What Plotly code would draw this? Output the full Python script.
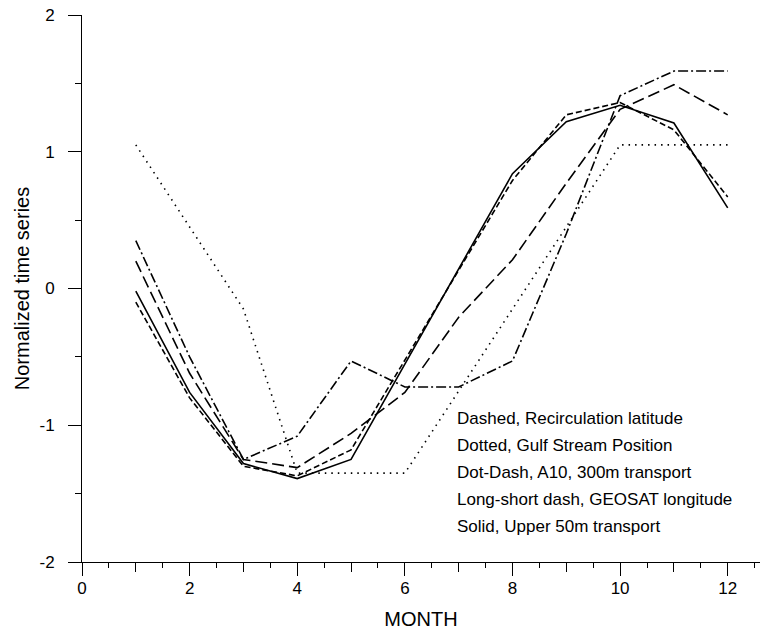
import plotly.graph_objects as go

months = [1, 2, 3, 4, 5, 6, 7, 8, 9, 10, 11, 12]

recirc_latitude = [-0.10, -0.80, -1.30, -1.37, -1.18, -0.52, 0.14, 0.79, 1.27, 1.36, 1.16, 0.67]
gulf_stream_pos = [1.05, 0.45, -0.15, -1.35, -1.35, -1.35, -0.75, -0.15, 0.45, 1.05, 1.05, 1.05]
a10_300m = [0.35, -0.50, -1.25, -1.08, -0.53, -0.72, -0.72, -0.53, 0.40, 1.41, 1.59, 1.59]
geosat_lon = [0.20, -0.62, -1.25, -1.31, -1.06, -0.76, -0.21, 0.21, 0.77, 1.31, 1.49, 1.27]
upper50m = [-0.02, -0.76, -1.28, -1.39, -1.25, -0.55, 0.15, 0.84, 1.22, 1.34, 1.21, 0.59]

legend_lines = [
    "Dashed, Recirculation latitude",
    "Dotted, Gulf Stream Position",
    "Dot-Dash, A10, 300m transport",
    "Long-short dash, GEOSAT longitude",
    "Solid, Upper 50m transport",
]

x_tick_vals = [0, 2, 4, 6, 8, 10, 12]
x_tick_text = ["0", "2", "4", "6", "8", "10", "12"]
y_tick_vals = [-2, -1, 0, 1, 2]
y_tick_text = ["-2", "-1", "0", "1", "2"]

FONT = "Liberation Sans, Arial, Helvetica, sans-serif"

fig = go.Figure()
series = [
    (recirc_latitude, "6px,3px", legend_lines[0]),
    (gulf_stream_pos, "1.5px,5px", legend_lines[1]),
    (a10_300m, "10px,3px,2px,3px", legend_lines[2]),
    (geosat_lon, "12px,5px", legend_lines[3]),
    (upper50m, "solid", legend_lines[4]),
]
for ys, dash, name in series:
    fig.add_trace(go.Scatter(x=months, y=ys, mode="lines", name=name,
                             line=dict(color="black", width=1.6, dash=dash),
                             showlegend=False))

# invisible trace to carry the odd-month tick axis
fig.add_trace(go.Scatter(x=[months[0]], y=[upper50m[0]], xaxis="x2", mode="lines",
                         line=dict(width=0), showlegend=False, hoverinfo="skip"))

fig.update_layout(
    width=771, height=633,
    margin=dict(l=82, r=11, t=15, b=71),
    paper_bgcolor="white", plot_bgcolor="white",
    font=dict(family=FONT, size=17, color="black"),
    xaxis=dict(range=[0, 12.6], tickvals=x_tick_vals, ticktext=x_tick_text,
               ticks="outside", ticklen=13, automargin=False,
               tickwidth=1, tickcolor="black", showline=True, linecolor="black",
               linewidth=1, showgrid=False, zeroline=False,
               ticklabelstandoff=-2, ticklabeloverflow="allow",
               minor=dict(dtick=0.5, tick0=0, ticks="outside", ticklen=5,
                          tickcolor="black", showgrid=False),
               title=dict(text="MONTH", standoff=14)),
    xaxis2=dict(range=[0, 12.6], overlaying="x", side="bottom", matches="x",
                tickvals=[1, 3, 5, 7, 9, 11], ticks="outside", ticklen=9,
                tickcolor="black", showticklabels=False, showline=False,
                showgrid=False, zeroline=False, automargin=False),
    yaxis=dict(range=[-2, 2], tickvals=y_tick_vals, ticktext=y_tick_text,
               ticks="outside", ticklen=13, automargin=False,
               tickcolor="black", showline=True, linecolor="black", linewidth=1,
               showgrid=False, zeroline=False, ticklabelstandoff=10,
               ticklabeloverflow="allow",
               minor=dict(dtick=0.5, tick0=0, ticks="outside", ticklen=6,
                          tickcolor="black", showgrid=False),
               title=dict(text="Normalized time series", standoff=4)),
)

row_y = [-0.95, -1.148, -1.346, -1.543, -1.741]
for txt, yv in zip(legend_lines, row_y):
    fig.add_annotation(x=6.94, y=yv, xref="x", yref="y", text=txt, showarrow=False,
                       xanchor="left", yanchor="middle",
                       font=dict(family=FONT, size=17, color="black"))

fig.write_html("out.html", config={"displayModeBar": False},
               post_script="document.body.style.margin='0px';")
